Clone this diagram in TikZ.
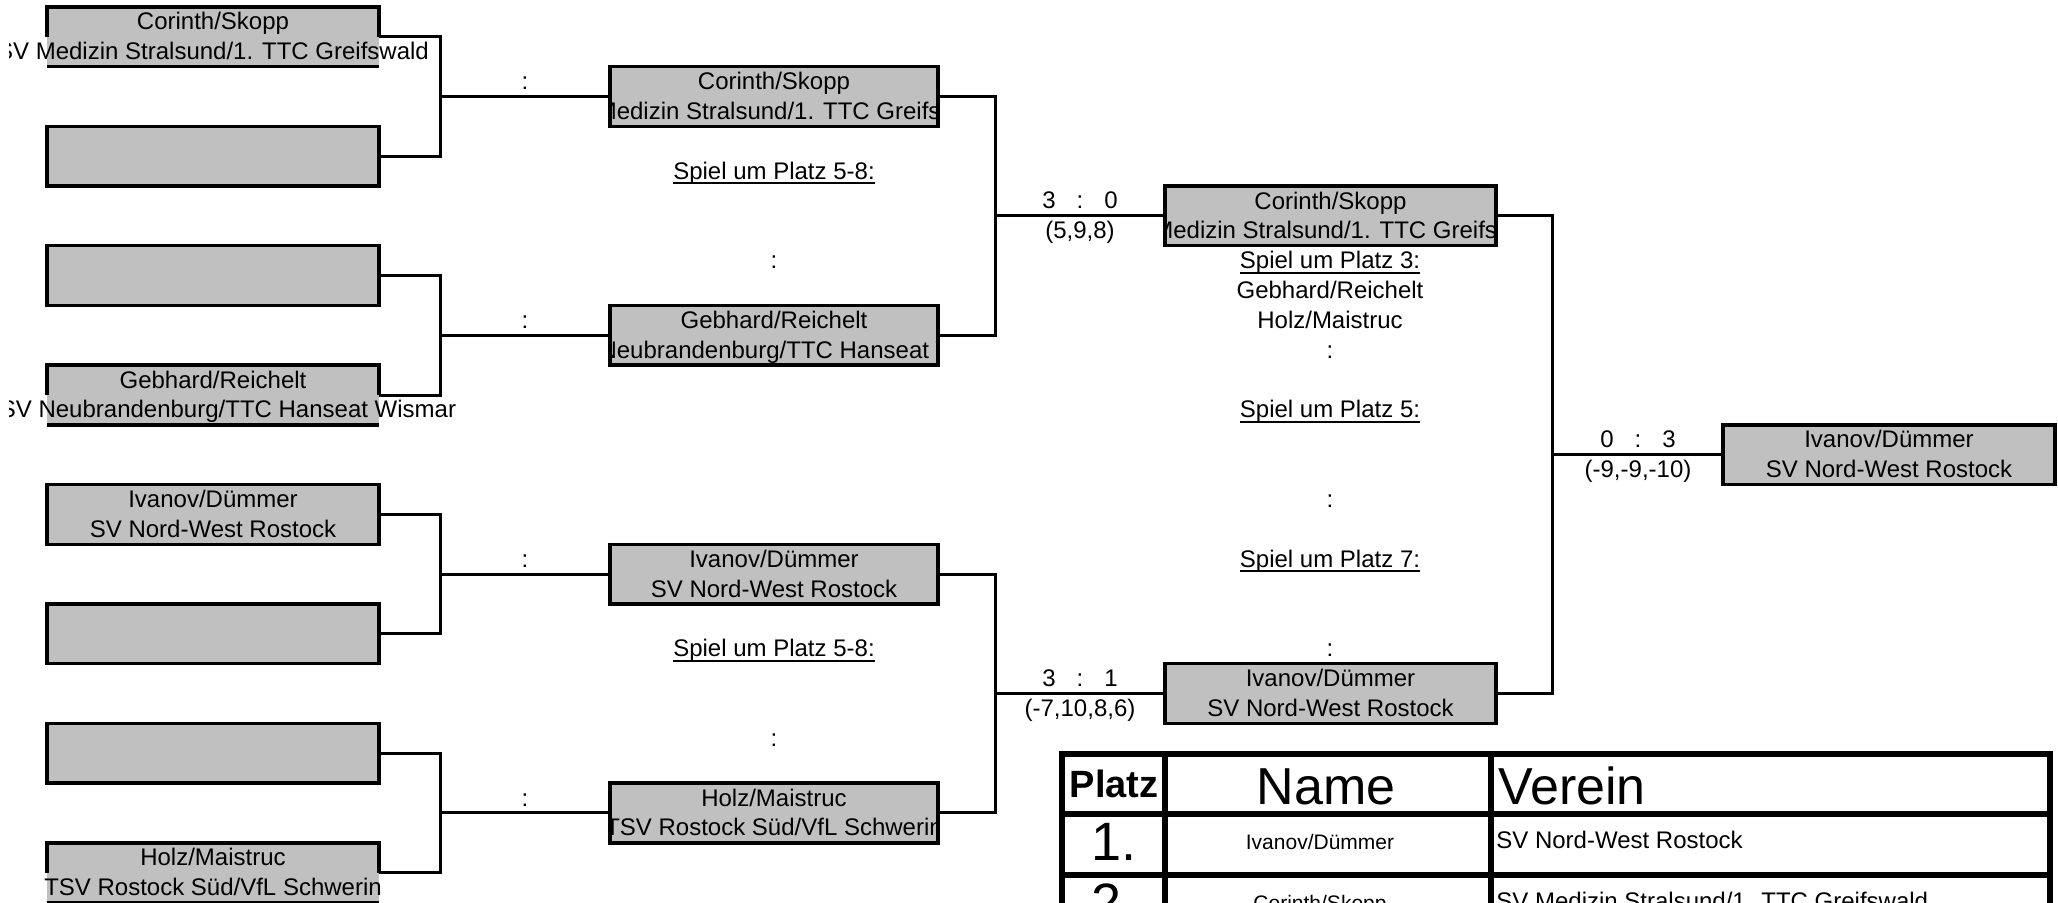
\documentclass[tikz,border=0pt]{standalone}
\usepackage{fontspec}
\setmainfont{Liberation Sans}
\definecolor{cellgray}{RGB}{192,192,192}
\tikzset{
  cellfill/.style={rectangle, fill=cellgray, draw=none, inner sep=0pt, outer sep=0pt, minimum height=29.85pt},
  border/.style={line width=1.7pt, draw=black},
  conn/.style={line width=1.5pt, draw=black},
  lbl/.style={anchor=base, inner sep=0pt, outer sep=0pt, font=\fontsize{12}{14}\selectfont, text=black},
  uline/.style={line width=1pt},
  tline/.style={line width=3pt},
  tplatz/.style={anchor=base, inner sep=0pt, font=\bfseries\fontsize{19}{22}\selectfont},
  thead/.style={inner sep=0pt, font=\fontsize{26}{30}\selectfont},
  trank/.style={anchor=base, inner sep=0pt, font=\fontsize{27}{31}\selectfont},
  tname/.style={anchor=base, inner sep=0pt, font=\fontsize{10.5}{12}\selectfont},
  tclub/.style={anchor=base west, inner sep=0pt, font=\fontsize{12}{14}\selectfont},
}
% box whose texts are clipped to the box
\newcommand{\bracketbox}[7]{%
  \node[cellfill, minimum width=#4, anchor=north west] (#1) at (#2,#3) {};
  \begin{scope}
    \clip (#1.south west) rectangle (#1.north east);
    \node[lbl] (#1-t1) at ([yshift=3.46pt]#1.center) {#5};
    \node[lbl] (#1-t2) at ([xshift=#7,yshift=-11.46pt]#1.center) {#6};
  \end{scope}
  \draw[border] (#1.south west) rectangle (#1.north east);
}
% box whose second text line spills over the border
\newcommand{\spillbox}[7]{%
  \node[cellfill, minimum width=#4, anchor=north west] (#1) at (#2,#3) {};
  \node[lbl] (#1-t1) at ([yshift=3.46pt]#1.center) {#5};
  \node[lbl] (#1-t2) at ([xshift=#7,yshift=-11.46pt]#1.center) {#6};
  \draw[border] (#1.west) |- (#1.north east) -- (#1.east);
  \draw[border] (#1.south west) -- (#1.south east);
}
\begin{document}
\begin{tikzpicture}[x=0.5pt,y=-0.5pt]
\useasboundingbox (0,0) rectangle (2058,903);
\clip (9,0) rectangle (2058,903);

% ---- round 1
\spillbox{r1a}{47}{7}{166pt}{Corinth/Skopp}{SV Medizin Stralsund/1. TTC Greifswald}{0pt}
\bracketbox{r1b}{47}{126.4}{166pt}{}{}{0pt}
\bracketbox{r1c}{47}{245.8}{166pt}{}{}{0pt}
\spillbox{r1d}{47}{365.2}{166pt}{Gebhard/Reichelt}{SV Neubrandenburg/TTC Hanseat Wismar}{7.5pt}
\bracketbox{r1e}{47}{484.6}{166pt}{Ivanov/Dümmer}{SV Nord-West Rostock}{0pt}
\bracketbox{r1f}{47}{604}{166pt}{}{}{0pt}
\bracketbox{r1g}{47}{723.4}{166pt}{}{}{0pt}
\spillbox{r1h}{47}{842.8}{166pt}{Holz/Maistruc}{TSV Rostock Süd/VfL Schwerin}{0pt}

% ---- round 2
\bracketbox{r2a}{610}{66.7}{164pt}{Corinth/Skopp}{SV Medizin Stralsund/1. TTC Greifswald}{0pt}
\bracketbox{r2b}{610}{305.5}{164pt}{Gebhard/Reichelt}{SV Neubrandenburg/TTC Hanseat Wismar}{7.5pt}
\bracketbox{r2c}{610}{544.3}{164pt}{Ivanov/Dümmer}{SV Nord-West Rostock}{0pt}
\bracketbox{r2d}{610}{783.1}{164pt}{Holz/Maistruc}{TSV Rostock Süd/VfL Schwerin}{0pt}

% ---- round 3 and final
\bracketbox{r3a}{1165}{186.1}{165.5pt}{Corinth/Skopp}{SV Medizin Stralsund/1. TTC Greifswald}{0pt}
\bracketbox{r3b}{1165}{663.7}{165.5pt}{Ivanov/Dümmer}{SV Nord-West Rostock}{0pt}
\bracketbox{fin}{1723}{424.9}{166pt}{Ivanov/Dümmer}{SV Nord-West Rostock}{0pt}

% ---- connectors
\path (r2a.west) ++(-170,0) coordinate (ja);
\path (r2b.west) ++(-170,0) coordinate (jb);
\path (r2c.west) ++(-170,0) coordinate (jc);
\path (r2d.west) ++(-170,0) coordinate (jd);
\path (r3a.west) ++(-170,0) coordinate (je);
\path (r3b.west) ++(-170,0) coordinate (jf);
\path (fin.west) ++(-171,0) coordinate (jg);
\draw[conn] (r1a.east) -| (ja) |- (r1b.east);
\draw[conn] (ja) -- (r2a.west);
\draw[conn] (r1c.east) -| (jb) |- (r1d.east);
\draw[conn] (jb) -- (r2b.west);
\draw[conn] (r1e.east) -| (jc) |- (r1f.east);
\draw[conn] (jc) -- (r2c.west);
\draw[conn] (r1g.east) -| (jd) |- (r1h.east);
\draw[conn] (jd) -- (r2d.west);
\draw[conn] (r2a.east) -| (je) |- (r2b.east);
\draw[conn] (je) -- (r3a.west);
\draw[conn] (r2c.east) -| (jf) |- (r2d.east);
\draw[conn] (jf) -- (r3b.west);
\draw[conn] (r3a.east) -| (jg) |- (r3b.east);
\draw[conn] (jg) -- (fin.west);

% ---- round 1 scores
\node[lbl] (c1) at (525,89.6) {:};
\node[lbl] (c2) at (525,328.4) {:};
\node[lbl] (c3) at (525,567.2) {:};
\node[lbl] (c4) at (525,806) {:};

% ---- round 2 column texts
\node[lbl] (s58a) at (774,179.15) {Spiel um Platz 5-8:};
\draw[uline] ([yshift=-2pt]s58a.base west) -- ([yshift=-2pt]s58a.base east);
\node[lbl] (c5) at (774,268.7) {:};
\node[lbl] (s58b) at (774,656.75) {Spiel um Platz 5-8:};
\draw[uline] ([yshift=-2pt]s58b.base west) -- ([yshift=-2pt]s58b.base east);
\node[lbl] (c6) at (774,746.3) {:};

% ---- round 2 -> 3 scores
\node[lbl] (sa1) at (1049,209) {3};
\node[lbl] (sa2) at (1080,209) {:};
\node[lbl] (sa3) at (1111,209) {0};
\node[lbl] (sa4) at (1080,238.85) {(5,9,8)};
\node[lbl] (sb1) at (1049,686.6) {3};
\node[lbl] (sb2) at (1080,686.6) {:};
\node[lbl] (sb3) at (1111,686.6) {1};
\node[lbl] (sb4) at (1080,716.45) {(-7,10,8,6)};

% ---- final score
\node[lbl] (sf1) at (1607,447.8) {0};
\node[lbl] (sf2) at (1638,447.8) {:};
\node[lbl] (sf3) at (1669,447.8) {3};
\node[lbl] (sf4) at (1638,477.65) {(-9,-9,-10)};

% ---- round 3 column texts
\node[lbl] (p3) at (1330,268.7) {Spiel um Platz 3:};
\draw[uline] ([yshift=-2pt]p3.base west) -- ([yshift=-2pt]p3.base east);
\node[lbl] (p3a) at (1330,298.55) {Gebhard/Reichelt};
\node[lbl] (p3b) at (1330,328.4) {Holz/Maistruc};
\node[lbl] (p3c) at (1330,358.25) {:};
\node[lbl] (p5) at (1330,417.95) {Spiel um Platz 5:};
\draw[uline] ([yshift=-2pt]p5.base west) -- ([yshift=-2pt]p5.base east);
\node[lbl] (p5c) at (1330,507.5) {:};
\node[lbl] (p7) at (1330,567.2) {Spiel um Platz 7:};
\draw[uline] ([yshift=-2pt]p7.base west) -- ([yshift=-2pt]p7.base east);
\node[lbl] (p7c) at (1330,656.75) {:};

% ---- result table
\draw[tline] (1062,753.5) rectangle (2049.5,1000);
\draw[tline] (1164.5,753.5) -- (1164.5,1000);
\draw[tline] (1491,753.5) -- (1491,1000);
\draw[tline] (1062,813.5) -- (2049.5,813.5);
\draw[tline] (1062,874.5) -- (2049.5,874.5);
\node[tplatz] (hplatz) at (1114,797) {Platz};
\node[thead, anchor=base] (hname) at (1326,804) {Name};
\node[thead, anchor=base west] (hverein) at (1498,804) {Verein};
\node[trank] (rk1) at (1114,860) {1.};
\node[tname] (nm1) at (1320,849) {Ivanov/Dümmer};
\node[tclub] (cl1) at (1496,848) {SV Nord-West Rostock};
\node[trank] (rk2) at (1114,921) {2.};
\node[tname] (nm2) at (1320,910) {Corinth/Skopp};
\node[tclub] (cl2) at (1496,909) {SV Medizin Stralsund/1. TTC Greifswald};
\end{tikzpicture}
\end{document}
